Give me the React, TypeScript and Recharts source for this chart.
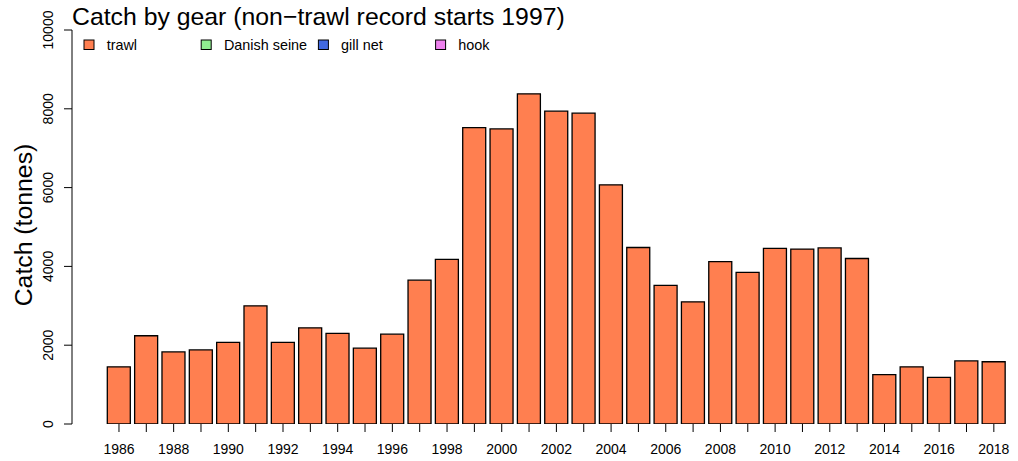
import React from "react";
import { BarChart, Bar, XAxis, YAxis } from "recharts";

const years = [
  "1986", "1987", "1988", "1989", "1990", "1991", "1992", "1993", "1994", "1995", "1996",
  "1997", "1998", "1999", "2000", "2001", "2002", "2003", "2004", "2005", "2006", "2007",
  "2008", "2009", "2010", "2011", "2012", "2013", "2014", "2015", "2016", "2017", "2018",
];

const trawl = [
  1450, 2240, 1830, 1880, 2070, 3000, 2070, 2440, 2300, 1925, 2280,
  3650, 4180, 7520, 7490, 8380, 7940, 7890, 6070, 4480, 3520, 3100,
  4120, 3850, 4460, 4440, 4470, 4200, 1255, 1450, 1185, 1600, 1580,
];

const gearNames = ["trawl", "Danish seine", "gill net", "hook"];
const gearColors = ["#FF7F50", "#90EE90", "#4169E1", "#EE82EE"];

const yTicks = [0, 2000, 4000, 6000, 8000, 10000];

const FONT = '"Liberation Sans", Arial, Helvetica, sans-serif';

const chartData = years.map((year, i) => ({ year, trawl: trawl[i] }));

function YTick({ y, payload }: any) {
  return (
    <text
      x={48}
      y={y}
      dy="0.35em"
      transform={`rotate(-90, 48, ${y})`}
      textAnchor="middle"
      fontSize={14}
      fontFamily={FONT}
      fill="#000"
    >
      {payload.value}
    </text>
  );
}

// only even years get a label, every bar gets a tick
function XTick({ x, y, payload }: any) {
  if (Number(payload.value) % 2 !== 0) return null;
  return (
    <text x={x} y={y + 20} textAnchor="middle" fontSize={14} fontFamily={FONT} fill="#000">
      {payload.value}
    </text>
  );
}

export default function App() {
  return (
    <div style={{ position: "absolute", left: 0, top: 0, width: 1018, height: 461, background: "#fff", fontFamily: FONT }}>
      <style>{"body{margin:0}"}</style>
      <BarChart
        width={1018}
        height={461}
        data={chartData}
        margin={{ top: 30, right: 10.5, bottom: 0, left: 0 }}
        barSize={23}
      >
        <XAxis
          dataKey="year"
          interval={0}
          height={37}
          tickSize={8}
          axisLine={false}
          tickLine={{ stroke: "#000", strokeWidth: 1 }}
          padding={{ left: 33.3, right: 0 }}
          tick={<XTick />}
        />
        <YAxis
          width={72}
          domain={[0, 10000]}
          ticks={yTicks}
          allowDataOverflow
          tickSize={8}
          axisLine={{ stroke: "#000", strokeWidth: 1 }}
          tickLine={{ stroke: "#000", strokeWidth: 1 }}
          tick={<YTick />}
        />
        <Bar dataKey="trawl" fill={gearColors[0]} stroke="#000" strokeWidth={1.3} isAnimationActive={false} />
      </BarChart>

      <div style={{ position: "absolute", left: 72, top: 1.5, fontSize: 24.8, lineHeight: "30px", whiteSpace: "nowrap", color: "#000" }}>
        Catch by gear (non−trawl record starts 1997)
      </div>

      <svg style={{ position: "absolute", left: 0, top: 0 }} width={1018} height={461} pointerEvents="none">
        <text
          x={32}
          y={225}
          transform="rotate(-90, 32, 225)"
          textAnchor="middle"
          fontSize={24.8}
          fontFamily={FONT}
          fill="#000"
        >
          Catch (tonnes)
        </text>
        {gearNames.map((name, i) => (
          <g key={name}>
            <rect x={84 + i * 117.2} y={40} width={10} height={9.5} fill={gearColors[i]} stroke="#000" strokeWidth={1} />
            <text x={106.7 + i * 117.2} y={50} fontSize={14.4} fontFamily={FONT} fill="#000">
              {name}
            </text>
          </g>
        ))}
      </svg>
    </div>
  );
}
